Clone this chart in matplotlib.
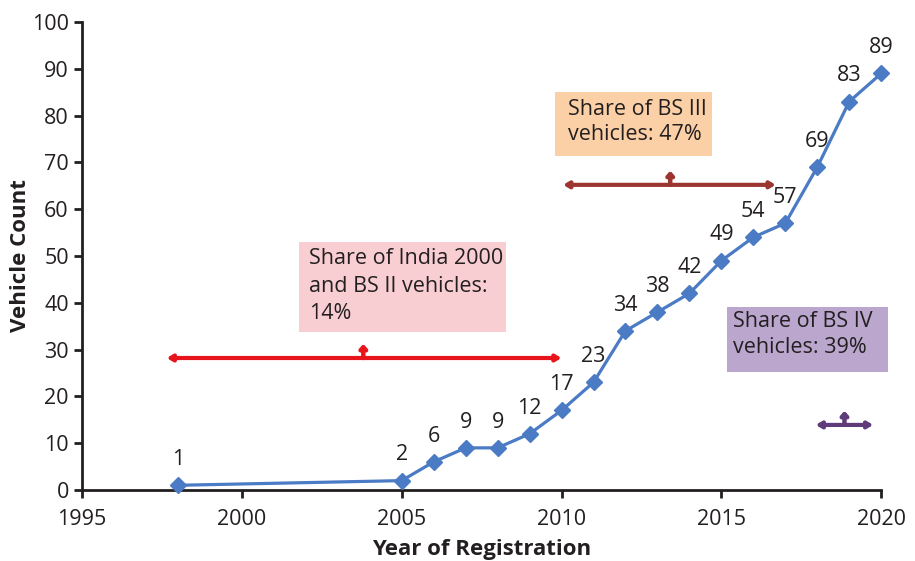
import matplotlib
matplotlib.use("Agg")
import matplotlib.pyplot as plt
from matplotlib.patches import Rectangle

years = [1998, 2005, 2006, 2007, 2008, 2009, 2010, 2011, 2012, 2013, 2014, 2015, 2016, 2017, 2018, 2019, 2020]
counts = [1, 2, 6, 9, 9, 12, 17, 23, 34, 38, 42, 49, 54, 57, 69, 83, 89]

# ranges: (start, end, y level, mid marker x, colour)
ranges = [
    (1997.65, 2010.0, 28.2, 2003.8, "#e8141c"),
    (2010.05, 2016.7, 65.2, 2013.4, "#9c3530"),
    (2017.95, 2019.75, 13.9, 2018.85, "#5f3b7a"),
]
# boxes: text, box x0, x1, y0, y1, text x, text top, colour
boxes = [
    ("Share of India 2000\nand BS II vehicles:\n14%", 2001.79, 2008.27, 33.8, 53.0, 2002.1, 51.6, "#f9ced3"),
    ("Share of BS III\nvehicles: 47%", 2009.80, 2014.71, 71.4, 85.0, 2010.2, 83.6, "#fcd0a6"),
    ("Share of BS IV\nvehicles: 39%", 2015.18, 2020.22, 25.2, 39.1, 2015.37, 38.2, "#bba6ce"),
]

plt.rcParams['font.family'] = ['Open Sans', 'DejaVu Sans']
fig = plt.figure(figsize=(9.15, 5.61), dpi=100)
ax = fig.add_axes([0.0896, 0.1266, 0.8735, 0.8342])

for i, (txt, x0, x1, y0, y1, tx, ty, c) in enumerate(boxes):
    ax.add_patch(Rectangle((x0, y0), x1 - x0, y1 - y0, fc=c, ec="none", zorder=1, clip_on=False))
    ax.text(tx, ty, txt, fontsize=15.5, ha="left", va="top",
            linespacing=1.38 if i == 0 else 1.28, color="#231f20", zorder=2)

ax.plot(years, counts, color="#4a7bc4", lw=2.3, marker="D", ms=8, zorder=3, clip_on=False)
for x, y in zip(years, counts):
    ax.annotate(str(y), (x, y), xytext=(0, 11), textcoords="offset points",
                ha="center", va="bottom", fontsize=15.5, color="#231f20")

for x0, x1, y, xm, c in ranges:
    ax.annotate("", xy=(x0, y), xytext=(x1, y),
                arrowprops=dict(arrowstyle="<|-|>,head_length=0.3,head_width=0.18",
                                color=c, lw=3, shrinkA=0, shrinkB=0))
    ax.annotate("", xy=(xm, y + 3.0), xytext=(xm, y),
                arrowprops=dict(arrowstyle="-|>,head_length=0.22,head_width=0.2",
                                color=c, lw=3.2, shrinkA=0, shrinkB=0))

ax.set_xlim(1995, 2020)
ax.set_ylim(0, 100)
ax.set_xticks(range(1995, 2021, 5))
ax.set_yticks(range(0, 101, 10))
ax.tick_params(labelsize=15.5, width=2, length=6, direction="out", colors="#231f20")
ax.tick_params(axis="x", pad=8)
for s in ["top", "right"]:
    ax.spines[s].set_visible(False)
for s in ["left", "bottom"]:
    ax.spines[s].set_linewidth(2)
    ax.spines[s].set_color("#231f20")
ax.set_xlabel("Year of Registration", fontsize=16, fontweight="bold", labelpad=6, color="#231f20")
ax.set_ylabel("Vehicle Count", fontsize=16, fontweight="bold", color="#231f20")
ax.yaxis.set_label_coords(-0.064, 0.5)

fig.savefig("out.png", dpi=100)
